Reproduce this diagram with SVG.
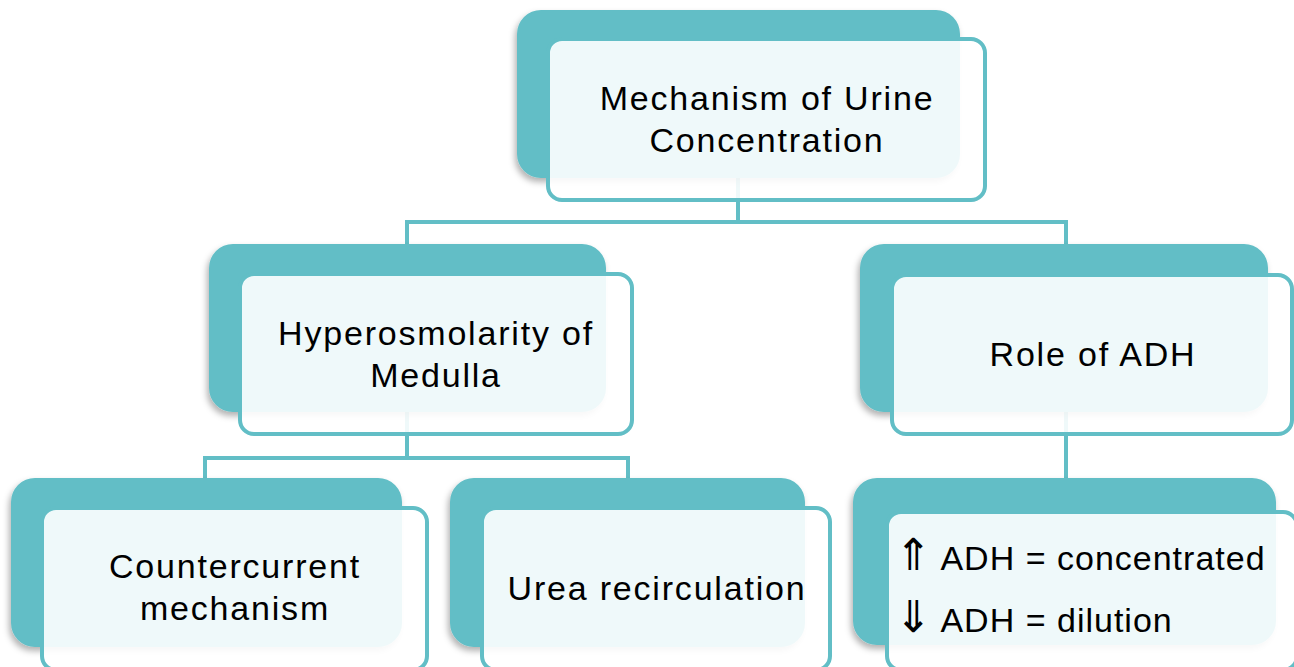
<svg xmlns="http://www.w3.org/2000/svg" width="1294" height="667" viewBox="0 0 1294 667">
<defs>
<filter id="sh" x="-10%" y="-10%" width="120%" height="130%">
<feDropShadow dx="-2" dy="4" stdDeviation="3" flood-color="#000" flood-opacity="0.3"/>
</filter>
<style>
.back{fill:#62bec6;filter:url(#sh)}
.front{fill:#ffffff;fill-opacity:0.9;stroke:#62bec6;stroke-width:4}
.conn{fill:none;stroke:#62bec6;stroke-width:4}
text{font-family:"Liberation Sans",Arial,sans-serif;font-size:34px;letter-spacing:1.8px;fill:#000}
.c{text-anchor:middle}
.l{letter-spacing:1px}
.arr{font-family:"DejaVu Sans",sans-serif;font-size:44px;letter-spacing:0}
</style>
</defs>
<rect width="1294" height="667" fill="#fff"/>
<g id="connectors">
<path class="conn" d="M738 178V222M407 245V222H1066V245"/>
<path class="conn" d="M407 412V458M205 478V458H628V478"/>
<path class="conn" d="M1066 412V478"/>
</g>
<g id="n-root">
<rect class="back" x="517" y="10" width="443" height="168" rx="24"/>
<rect class="front" x="548" y="39" width="437" height="161" rx="14"/>
<text class="c" x="767" y="110">Mechanism of Urine</text>
<text class="c" x="767" y="152">Concentration</text>
</g>
<g id="n-hyper">
<rect class="back" x="209" y="244" width="397" height="168" rx="24"/>
<rect class="front" x="240" y="274" width="392" height="160" rx="14"/>
<text class="c" x="436" y="345">Hyperosmolarity of</text>
<text class="c" x="436" y="387">Medulla</text>
</g>
<g id="n-adh">
<rect class="back" x="860" y="244" width="408" height="168" rx="24"/>
<rect class="front" x="892" y="275" width="400" height="159" rx="14"/>
<text class="c" x="1093" y="366">Role of ADH</text>
</g>
<g id="n-counter">
<rect class="back" x="11" y="478" width="391" height="169" rx="24"/>
<rect class="front" x="42" y="508" width="385" height="162" rx="14"/>
<text class="c" x="235" y="578">Countercurrent</text>
<text class="c" x="235" y="620">mechanism</text>
</g>
<g id="n-urea">
<rect class="back" x="450" y="478" width="355" height="169" rx="24"/>
<rect class="front" x="482" y="508" width="348" height="162" rx="14"/>
<text class="c" x="657" y="600">Urea recirculation</text>
</g>
<g id="n-effect">
<rect class="back" x="853" y="478" width="423" height="167" rx="24"/>
<rect class="front" x="887" y="512" width="410" height="158" rx="14"/>
<text class="l" x="895" y="570"><tspan class="arr">⇑</tspan> ADH = concentrated</text>
<text class="l" x="895" y="632"><tspan class="arr">⇓</tspan> ADH = dilution</text>
</g>
</svg>
